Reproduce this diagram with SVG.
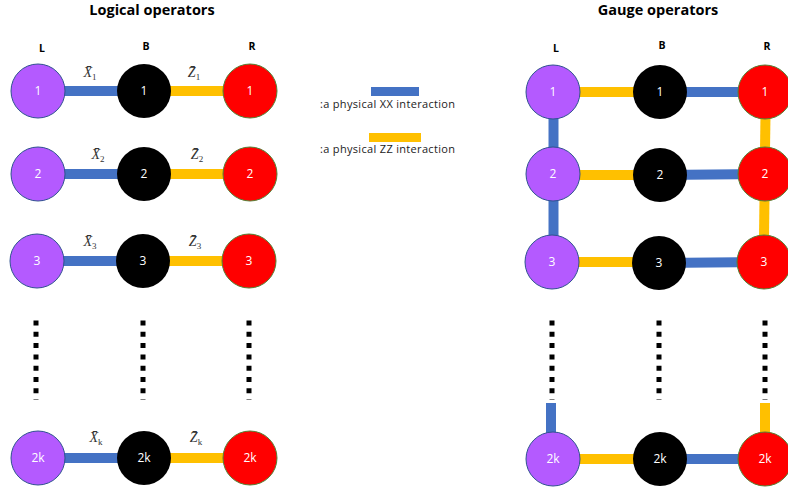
<svg xmlns="http://www.w3.org/2000/svg" width="788" height="494" viewBox="0 0 788 494">
<style>
.title{font-family:"Open Sans","Liberation Sans",sans-serif;font-weight:bold;font-size:14.5px;text-anchor:middle;fill:#000}
.col{font-family:"Open Sans","Liberation Sans",sans-serif;font-weight:bold;font-size:10.5px;text-anchor:middle;fill:#000}
.num{font-family:"Open Sans","Liberation Sans",sans-serif;font-size:12px;text-anchor:middle;fill:#fff}
.leg{font-family:"Open Sans","Liberation Sans",sans-serif;font-size:11px;fill:#222}
.op{font-family:"Liberation Serif",serif;font-style:italic;font-size:14px;fill:#333;text-anchor:middle}
.sub{font-size:9px;font-style:normal}
.L{fill:#B45AFF;stroke:#2F528F;stroke-width:1}
.B{fill:#000}
.R{fill:#FF0000;stroke:#538135;stroke-width:1}
.xx{stroke:#4472C4;stroke-width:10;fill:none}
.zz{stroke:#FFC000;stroke-width:10;fill:none}
.dots{stroke:#000;stroke-width:5;stroke-dasharray:5 6.3;fill:none}
</style>

<text class="title" x="152" y="15">Logical operators</text>
<text class="title" x="658" y="15">Gauge operators</text>
<text class="col" x="42" y="52">L</text>
<text class="col" x="146" y="50">B</text>
<text class="col" x="252" y="50">R</text>
<text class="col" x="556" y="52">L</text>
<text class="col" x="662" y="49">B</text>
<text class="col" x="767" y="50">R</text>

<g id="legend">
<rect x="371" y="87" width="48" height="9" fill="#4472C4"/>
<text class="leg" x="320" y="108" textLength="135">:a physical XX interaction</text>
<rect x="369" y="133" width="52" height="9" fill="#FFC000"/>
<text class="leg" x="320" y="153" textLength="135">:a physical ZZ interaction</text>
</g>

<g id="connectors">
<line class="xx" x1="38" y1="91" x2="144" y2="91"/>
<line class="zz" x1="144" y1="91" x2="250" y2="91"/>
<line class="xx" x1="38" y1="174" x2="144" y2="174"/>
<line class="zz" x1="144" y1="174" x2="250" y2="174"/>
<line class="xx" x1="37" y1="261" x2="143" y2="261"/>
<line class="zz" x1="143" y1="261" x2="249" y2="261"/>
<line class="xx" x1="38" y1="458" x2="144" y2="458"/>
<line class="zz" x1="144" y1="458" x2="250" y2="458"/>
<line class="dots" x1="36" y1="320.5" x2="36" y2="400"/>
<line class="dots" x1="143" y1="320.5" x2="143" y2="400"/>
<line class="dots" x1="249" y1="320.5" x2="249" y2="400"/>

<line class="zz" x1="553" y1="92" x2="660" y2="92"/>
<line class="xx" x1="660" y1="92" x2="765" y2="92"/>
<line class="zz" x1="553" y1="175" x2="660" y2="175"/>
<line class="xx" x1="660" y1="175" x2="765" y2="174"/>
<line class="zz" x1="552" y1="262" x2="659" y2="262"/>
<line class="xx" x1="659" y1="263" x2="764" y2="262"/>
<line class="zz" x1="553" y1="459" x2="660" y2="459"/>
<line class="xx" x1="660" y1="459" x2="765" y2="459"/>
<line class="xx" x1="553.5" y1="115" x2="553.5" y2="150"/>
<line class="xx" x1="553.5" y1="198" x2="553.5" y2="236"/>
<line class="zz" x1="765.5" y1="115" x2="765" y2="150"/>
<line class="zz" x1="764.5" y1="198" x2="764" y2="236"/>
<line class="xx" x1="551" y1="403" x2="551" y2="436"/>
<line class="zz" x1="765" y1="403" x2="765" y2="436"/>
<line class="dots" x1="552" y1="320.5" x2="552" y2="400"/>
<line class="dots" x1="659" y1="320.5" x2="659" y2="400"/>
<line class="dots" x1="765" y1="320.5" x2="765" y2="400"/>
</g>

<g id="op-labels">
<text class="op" x="90" y="77">X̄<tspan class="sub" dy="3">1</tspan></text>
<text class="op" x="194" y="77">Z̄<tspan class="sub" dy="3">1</tspan></text>
<text class="op" x="98" y="159">X̄<tspan class="sub" dy="3">2</tspan></text>
<text class="op" x="197" y="159">Z̄<tspan class="sub" dy="3">2</tspan></text>
<text class="op" x="90" y="246">X̄<tspan class="sub" dy="3">3</tspan></text>
<text class="op" x="195" y="246">Z̄<tspan class="sub" dy="3">3</tspan></text>
<text class="op" x="96" y="442">X̄<tspan class="sub" dy="3">k</tspan></text>
<text class="op" x="196" y="442">Z̄<tspan class="sub" dy="3">k</tspan></text>
</g>

<g id="L1"><circle class="L" cx="38" cy="91" r="27"/><text class="num" x="38" y="95">1</text></g>
<g id="B1"><circle class="B" cx="144" cy="91" r="27"/><text class="num" x="144" y="95">1</text></g>
<g id="R1"><circle class="R" cx="250" cy="91" r="27"/><text class="num" x="250" y="95">1</text></g>
<g id="L2"><circle class="L" cx="38" cy="174" r="27"/><text class="num" x="38" y="178">2</text></g>
<g id="B2"><circle class="B" cx="144" cy="174" r="27"/><text class="num" x="144" y="178">2</text></g>
<g id="R2"><circle class="R" cx="250" cy="174" r="27"/><text class="num" x="250" y="178">2</text></g>
<g id="L3"><circle class="L" cx="37" cy="261" r="27"/><text class="num" x="37" y="265">3</text></g>
<g id="B3"><circle class="B" cx="143" cy="261" r="27"/><text class="num" x="143" y="265">3</text></g>
<g id="R3"><circle class="R" cx="249" cy="261" r="27"/><text class="num" x="249" y="265">3</text></g>
<g id="L2k"><circle class="L" cx="38" cy="458" r="27"/><text class="num" x="38" y="462">2k</text></g>
<g id="B2k"><circle class="B" cx="144" cy="458" r="27"/><text class="num" x="144" y="462">2k</text></g>
<g id="R2k"><circle class="R" cx="250" cy="458" r="27"/><text class="num" x="250" y="462">2k</text></g>

<g id="gL1"><circle class="L" cx="553" cy="92" r="27"/><text class="num" x="553" y="96">1</text></g>
<g id="gB1"><circle class="B" cx="660" cy="92" r="27"/><text class="num" x="660" y="96">1</text></g>
<g id="gR1"><circle class="R" cx="765" cy="92" r="27"/><text class="num" x="765" y="96">1</text></g>
<g id="gL2"><circle class="L" cx="553" cy="174" r="27"/><text class="num" x="553" y="178">2</text></g>
<g id="gB2"><circle class="B" cx="660" cy="175" r="27"/><text class="num" x="660" y="179">2</text></g>
<g id="gR2"><circle class="R" cx="765" cy="174" r="27"/><text class="num" x="765" y="178">2</text></g>
<g id="gL3"><circle class="L" cx="552" cy="262" r="27"/><text class="num" x="552" y="266">3</text></g>
<g id="gB3"><circle class="B" cx="659" cy="263" r="27"/><text class="num" x="659" y="267">3</text></g>
<g id="gR3"><circle class="R" cx="764" cy="262" r="27"/><text class="num" x="764" y="266">3</text></g>
<g id="gL2k"><circle class="L" cx="553" cy="459" r="27"/><text class="num" x="553" y="463">2k</text></g>
<g id="gB2k"><circle class="B" cx="660" cy="459" r="27"/><text class="num" x="660" y="463">2k</text></g>
<g id="gR2k"><circle class="R" cx="765" cy="459" r="27"/><text class="num" x="765" y="463">2k</text></g>
</svg>
